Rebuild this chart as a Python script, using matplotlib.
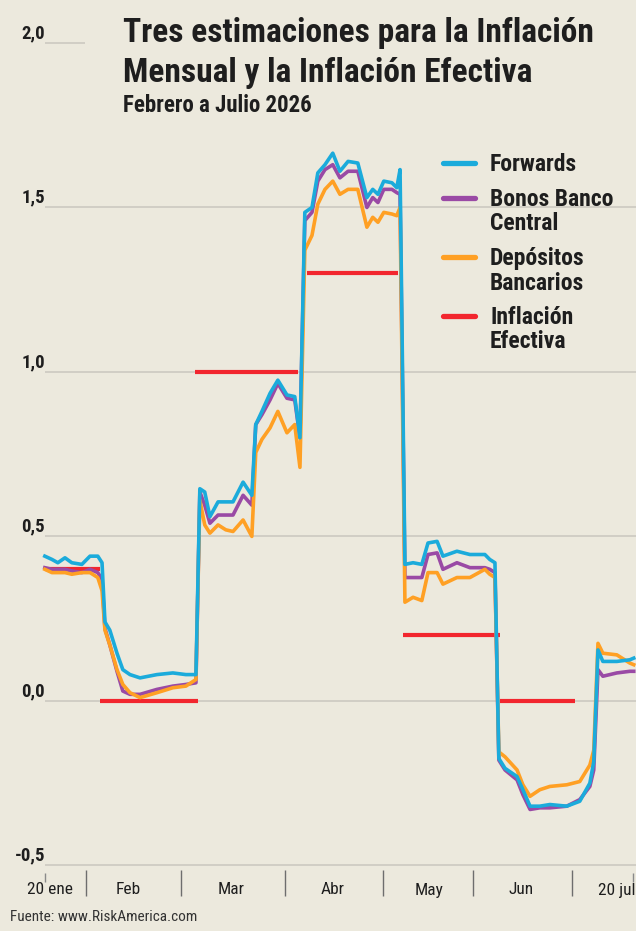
import matplotlib
matplotlib.use("Agg")
import matplotlib.pyplot as plt
from matplotlib import transforms
from matplotlib.lines import Line2D

# datos (dias desde el 20 de enero, valores en %)
dias = [0.1, 2.3, 4.1, 6.3, 8.4, 11.5, 14.0, 16.4, 17.7, 18.6,
        20.1, 22.3, 24.1, 26.3, 29.4, 34.6, 39.5, 43.5, 46.6, 47.8,
        49.3, 50.9, 53.4, 55.8, 58.0, 61.1, 63.8, 65.0, 66.9, 69.4,
        71.8, 74.6, 77.0, 78.6, 80.1, 82.3, 84.1, 86.3, 88.7, 90.9,
        93.4, 96.4, 99.2, 101.0, 102.6, 104.4, 106.9, 108.4, 109.4, 110.9,
        113.4, 116.1, 118.0, 120.8, 122.6, 126.9, 130.9, 135.5, 137.0, 138.6,
        139.8, 141.7, 145.4, 147.2, 149.4, 152.4, 155.5, 160.7, 164.7, 167.8,
        169.0, 170.3, 171.8, 176.1, 180.1, 181.3]

forwards = [0.44, 0.43, 0.42, 0.435, 0.42, 0.415, 0.44, 0.44, 0.42, 0.24,
            0.215, 0.145, 0.095, 0.08, 0.07, 0.08, 0.085, 0.08, 0.08, 0.645,
            0.635, 0.56, 0.605, 0.605, 0.605, 0.665, 0.625, 0.84, 0.88, 0.935,
            0.975, 0.93, 0.925, 0.80, 1.485, 1.50, 1.605, 1.63, 1.665, 1.61,
            1.64, 1.635, 1.53, 1.555, 1.54, 1.58, 1.575, 1.56, 1.615, 0.415,
            0.42, 0.415, 0.48, 0.485, 0.44, 0.455, 0.445, 0.445, 0.43, 0.42,
            -0.175, -0.205, -0.23, -0.27, -0.32, -0.32, -0.315, -0.32, -0.305, -0.25,
            -0.185, 0.155, 0.12, 0.12, 0.125, 0.13]

bonos = [0.405, 0.40, 0.40, 0.40, 0.395, 0.39, 0.40, 0.39, 0.37, 0.22,
         0.17, 0.09, 0.03, 0.02, 0.02, 0.035, 0.045, 0.05, 0.055, 0.635,
         0.595, 0.54, 0.565, 0.565, 0.565, 0.625, 0.595, 0.84, 0.87, 0.915,
         0.965, 0.92, 0.915, 0.80, 1.46, 1.485, 1.58, 1.615, 1.63, 1.59,
         1.61, 1.61, 1.50, 1.53, 1.515, 1.555, 1.555, 1.545, 1.54, 0.375,
         0.375, 0.375, 0.445, 0.45, 0.40, 0.42, 0.405, 0.405, 0.40, 0.39,
         -0.18, -0.21, -0.24, -0.285, -0.33, -0.325, -0.325, -0.32, -0.30, -0.26,
         -0.21, 0.095, 0.075, 0.085, 0.09, 0.09]

depositos = [0.40, 0.39, 0.39, 0.39, 0.385, 0.39, 0.39, 0.375, 0.335, 0.215,
             0.17, 0.095, 0.05, 0.025, 0.01, 0.025, 0.04, 0.045, 0.065, 0.61,
             0.535, 0.51, 0.535, 0.52, 0.515, 0.55, 0.50, 0.755, 0.795, 0.83,
             0.88, 0.815, 0.84, 0.71, 1.37, 1.415, 1.51, 1.555, 1.58, 1.54,
             1.555, 1.555, 1.44, 1.47, 1.455, 1.485, 1.48, 1.475, 1.50, 0.30,
             0.315, 0.305, 0.39, 0.39, 0.355, 0.375, 0.375, 0.40, 0.385, 0.375,
             -0.155, -0.17, -0.21, -0.255, -0.29, -0.27, -0.26, -0.255, -0.245, -0.195,
             -0.15, 0.175, 0.145, 0.14, 0.115, 0.11]

# inflacion efectiva por mes: tramo inicio / fin (dias) y valor
ef_inicio = [0.0, 17.0, 46.3, 80.7, 110.3, 140.1]
ef_fin = [17.0, 47.2, 78.0, 108.7, 140.1, 163.2]
ef_valor = [0.40, 0.0, 1.0, 1.3, 0.2, 0.0]

meses = ["20 ene", "Feb", "Mar", "Abr", "May", "Jun", "20 jul"]
meses_pos = [1.7, 25.7, 57.4, 88.7, 118.3, 146.6, 176.2]
separadores = [12.7, 42.0, 74.0, 104.1, 131.8, 162.3]

yticks = [-0.5, 0.0, 0.5, 1.0, 1.5, 2.0]
ylabels = ["-0,5", "0,0", "0,5", "1,0", "1,5", "2,0"]

series = ["Forwards", "Bonos Banco\nCentral", "Depósitos\nBancarios", "Inflación\nEfectiva"]

FONDO = "#ECE9DD"
GRIS = "#CFCCC3"
AZUL = "#1BABDB"
MORADO = "#9A4AA5"
NARANJA = "#FFA024"
ROJO = "#F2262E"
TEXTO = "#1E1E1E"

plt.rcParams["font.family"] = ["Roboto Condensed", "Lato", "DejaVu Sans"]

W, H = 636, 931
fig = plt.figure(figsize=(W / 100, H / 100), dpi=100, facecolor=FONDO)
ax = fig.add_axes([41.9 / W, (H - 870) / H, (W - 41.9) / W, 830 / H])
ax.set_facecolor(FONDO)
ax.set_xlim(-0.8, 182.0)
ax.set_ylim(-0.514, 2.009)
for s in ax.spines.values():
    s.set_visible(False)

# lineas de grilla
for g in yticks[:-1]:
    ax.hlines(g, 0, 182, color=GRIS, lw=1.3, zorder=0)
ax.hlines(2.0, 0, 12.4, color=GRIS, lw=1.3, zorder=0)

# etiquetas eje y sobre la grilla
trans = transforms.blended_transform_factory(fig.transFigure, ax.transData)
trans = transforms.offset_copy(trans, fig=fig, y=5, units="dots")
for v, lab in zip(yticks, ylabels):
    ax.text(45 / W, v, lab, transform=trans, ha="right", va="baseline",
            fontsize=13.5, fontweight="bold", color=TEXTO)
ax.set_yticks([])

# eje x: separadores de mes y nombres
ax.set_xticks(separadores)
ax.set_xticklabels([])
ax.tick_params(axis="x", which="major", length=19, width=1, color="#6E6E6E")
ax.set_xticks(meses_pos, minor=True)
ax.set_xticklabels(meses, minor=True)
ax.tick_params(axis="x", which="minor", length=0, pad=9, labelsize=12.5, labelcolor=TEXTO)
ax.vlines([0, 181], -0.014, -0.004, transform=ax.get_xaxis_transform(),
          color="#8A8A8A", lw=1, clip_on=False)

# series
ax.hlines(ef_valor, ef_inicio, ef_fin, color=ROJO, lw=3.0, zorder=2)
ax.plot(dias, bonos, color=MORADO, lw=2.6, zorder=3, solid_joinstyle="round")
ax.plot(dias, depositos, color=NARANJA, lw=2.6, zorder=4, solid_joinstyle="round")
ax.plot(dias, forwards, color=AZUL, lw=2.6, zorder=5, solid_joinstyle="round")

# leyenda
colores = [AZUL, MORADO, NARANJA, ROJO]
ley_y = [163, 198, 257, 316]
for col, lab, py in zip(colores, series, ley_y):
    fig.add_artist(Line2D([443 / W, 475 / W], [1 - py / H, 1 - py / H],
                          color=col, lw=3.8, solid_capstyle="round"))
    for i, linea in enumerate(lab.split("\n")):
        fig.text(490 / W, 1 - (py + 8 + i * 24.5) / H, linea, ha="left", va="baseline",
                 fontsize=17, fontweight="bold", color=TEXTO)

# titulo
fig.text(123 / W, 1 - 42 / H, "Tres estimaciones para la Inflación", ha="left",
         va="baseline", fontsize=24, fontweight="bold", color=TEXTO)
fig.text(123 / W, 1 - 82 / H, "Mensual y la Inflación Efectiva", ha="left",
         va="baseline", fontsize=24, fontweight="bold", color=TEXTO)
fig.text(123 / W, 1 - 112 / H, "Febrero a Julio 2026", ha="left",
         va="baseline", fontsize=16.5, fontweight="bold", color=TEXTO)

fig.text(10 / W, 1 - 917 / H, "Fuente: www.RiskAmerica.com", ha="left", va="center",
         fontsize=11, color="#333333")

fig.savefig("out.png", dpi=100, facecolor=FONDO)
